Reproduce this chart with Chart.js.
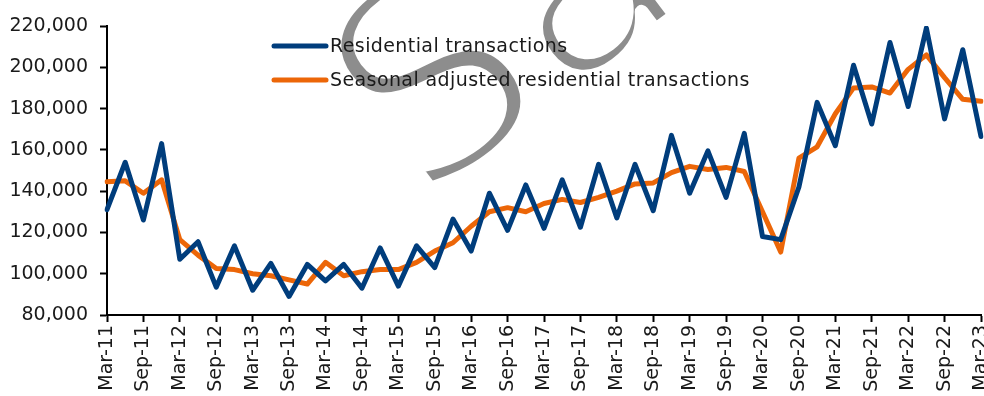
<!DOCTYPE html>
<html>
<head>
<meta charset="utf-8">
<title>Residential transactions</title>
<script src="https://cdn.jsdelivr.net/npm/chart.js@4.4.1/dist/chart.umd.min.js"></script>
<style>
  html, body { margin: 0; padding: 0; background: #ffffff; }
  #wrap { width: 984px; height: 396px; position: relative; }
</style>
</head>
<body>
<div id="wrap"><canvas id="chart"></canvas></div>
<script>
// Quarterly categories, Mar-11 .. Mar-23
const quarters = [
  'Mar-11','Jun-11','Sep-11','Dec-11',
  'Mar-12','Jun-12','Sep-12','Dec-12',
  'Mar-13','Jun-13','Sep-13','Dec-13',
  'Mar-14','Jun-14','Sep-14','Dec-14',
  'Mar-15','Jun-15','Sep-15','Dec-15',
  'Mar-16','Jun-16','Sep-16','Dec-16',
  'Mar-17','Jun-17','Sep-17','Dec-17',
  'Mar-18','Jun-18','Sep-18','Dec-18',
  'Mar-19','Jun-19','Sep-19','Dec-19',
  'Mar-20','Jun-20','Sep-20','Dec-20',
  'Mar-21','Jun-21','Sep-21','Dec-21',
  'Mar-22','Jun-22','Sep-22','Dec-22',
  'Mar-23'
];

// Number of residential transactions per quarter
const residential = [
  131000, 154000, 126000, 163000,
  107000, 115500,  93500, 113500,
   92000, 105000,  89000, 104500,
   96500, 104500,  93000, 112500,
   94000, 113500, 103000, 126500,
  111000, 139000, 121000, 143000,
  122000, 145500, 122500, 153000,
  127000, 153000, 130500, 167000,
  139000, 159500, 137000, 168000,
  118000, 116500, 142000, 183000,
  162000, 201000, 172500, 212000,
  181000, 219000, 175000, 208500,
  166500
];

// Seasonally adjusted series
const seasonallyAdjusted = [
  144500, 145000, 139000, 145500,
  116500, 109000, 102500, 102000,
  100000,  99000,  97000,  95000,
  105500,  99000, 101000, 102000,
  102000, 105500, 111000, 115000,
  123000, 130000, 132000, 130000,
  134000, 136000, 134500, 137000,
  140000, 143500, 144000, 149000,
  152000, 150500, 151500, 149500,
  130000, 110500, 156000, 161500,
  177500, 190000, 190500, 187500,
  199000, 206000, 195000, 184500,
  183500
];

const seriesNames = ['Residential transactions', 'Seasonal adjusted residential transactions'];
const yMin = 80000;
const yMax = 220000;
const yStep = 20000;
const watermarkText = 'Sample';

const FONT = '"DejaVu Sans", sans-serif';
const BLUE = '#003d7c';
const ORANGE = '#ec6608';

// Large grey diagonal watermark, painted beneath everything else.
// The glyphs are filled, then their edges are trimmed with a white
// stroke so the letters read as a light-weight face.
const watermark = {
  id: 'watermark',
  beforeDraw(chart) {
    const ctx = chart.ctx;
    ctx.save();
    ctx.fillStyle = '#ffffff';
    ctx.fillRect(0, 0, chart.width, chart.height);
    ctx.font = '276px ' + FONT;
    if ('letterSpacing' in ctx) ctx.letterSpacing = '0px';
    ctx.textBaseline = 'alphabetic';
    // centre of the first letter is used as the pivot
    const m = ctx.measureText(watermarkText.charAt(0));
    const dx = -m.width / 2;
    const dy = m.actualBoundingBoxAscent / 2;
    ctx.translate(428, 72);
    ctx.rotate(-37 * Math.PI / 180);
    ctx.fillStyle = '#8d8d8d';
    ctx.fillText(watermarkText, dx, dy);
    ctx.lineJoin = 'round';
    ctx.lineWidth = 14;
    ctx.strokeStyle = '#ffffff';
    ctx.strokeText(watermarkText, dx, dy);
    ctx.restore();
  }
};

// Legend drawn inside the plot, top-left of centre
const insideLegend = {
  id: 'insideLegend',
  beforeDatasetsDraw(chart) {
    const ctx = chart.ctx;
    ctx.save();
    chart.data.datasets.forEach((ds, i) => {
      const y = 46 + i * 34;
      ctx.beginPath();
      ctx.lineCap = 'round';
      ctx.lineWidth = 5;
      ctx.strokeStyle = ds.borderColor;
      ctx.moveTo(274, y);
      ctx.lineTo(326, y);
      ctx.stroke();
      ctx.font = '19px ' + FONT;
      if ('letterSpacing' in ctx) ctx.letterSpacing = '0.4px';
      ctx.fillStyle = '#1a1a1a';
      ctx.textBaseline = 'middle';
      ctx.textAlign = 'left';
      ctx.fillText(ds.label, 330, y + 1);
    });
    ctx.restore();
  }
};

new Chart(document.getElementById('chart'), {
  type: 'line',
  data: {
    labels: quarters,
    datasets: [
      {
        label: seriesNames[0],
        data: residential,
        borderColor: BLUE,
        backgroundColor: BLUE,
        borderWidth: 5,
        pointRadius: 0,
        tension: 0,
        borderJoinStyle: 'round',
        borderCapStyle: 'round'
      },
      {
        label: seriesNames[1],
        data: seasonallyAdjusted,
        borderColor: ORANGE,
        backgroundColor: ORANGE,
        borderWidth: 5,
        pointRadius: 0,
        tension: 0,
        borderJoinStyle: 'round',
        borderCapStyle: 'round'
      }
    ]
  },
  options: {
    responsive: true,
    maintainAspectRatio: false,
    devicePixelRatio: 1,
    animation: false,
    layout: { padding: { top: 26, right: 3, left: 0, bottom: 0 } },
    plugins: {
      legend: { display: false },
      tooltip: { enabled: false }
    },
    scales: {
      x: {
        type: 'category',
        offset: false,
        border: { color: '#000', width: 2 },
        grid: {
          drawOnChartArea: false,
          drawTicks: true,
          tickLength: 7,
          tickWidth: 2,
          tickColor: (c) => (c.index % 2 === 0 ? '#000' : 'rgba(0,0,0,0)')
        },
        ticks: {
          autoSkip: false,
          maxRotation: 90,
          minRotation: 90,
          padding: 3,
          color: '#1a1a1a',
          font: { family: FONT, size: 19 },
          callback: (v, i) => (i % 2 === 0 ? quarters[i] : '')
        },
        afterFit(scale) {
          scale.height = 81;
          scale.paddingLeft = 0;
          scale.paddingRight = 0;
        }
      },
      y: {
        min: yMin,
        max: yMax,
        border: { color: '#000', width: 2 },
        grid: {
          drawOnChartArea: false,
          drawTicks: true,
          tickLength: 7,
          tickWidth: 2,
          tickColor: '#000'
        },
        ticks: {
          stepSize: yStep,
          padding: 12,
          color: '#1a1a1a',
          font: { family: FONT, size: 19 },
          callback: (v) => v.toLocaleString('en-US')
        },
        afterFit(scale) {
          scale.width = 107;
          scale.paddingTop = 0;
        }
      }
    }
  },
  plugins: [watermark, insideLegend]
});
</script>
</body>
</html>
